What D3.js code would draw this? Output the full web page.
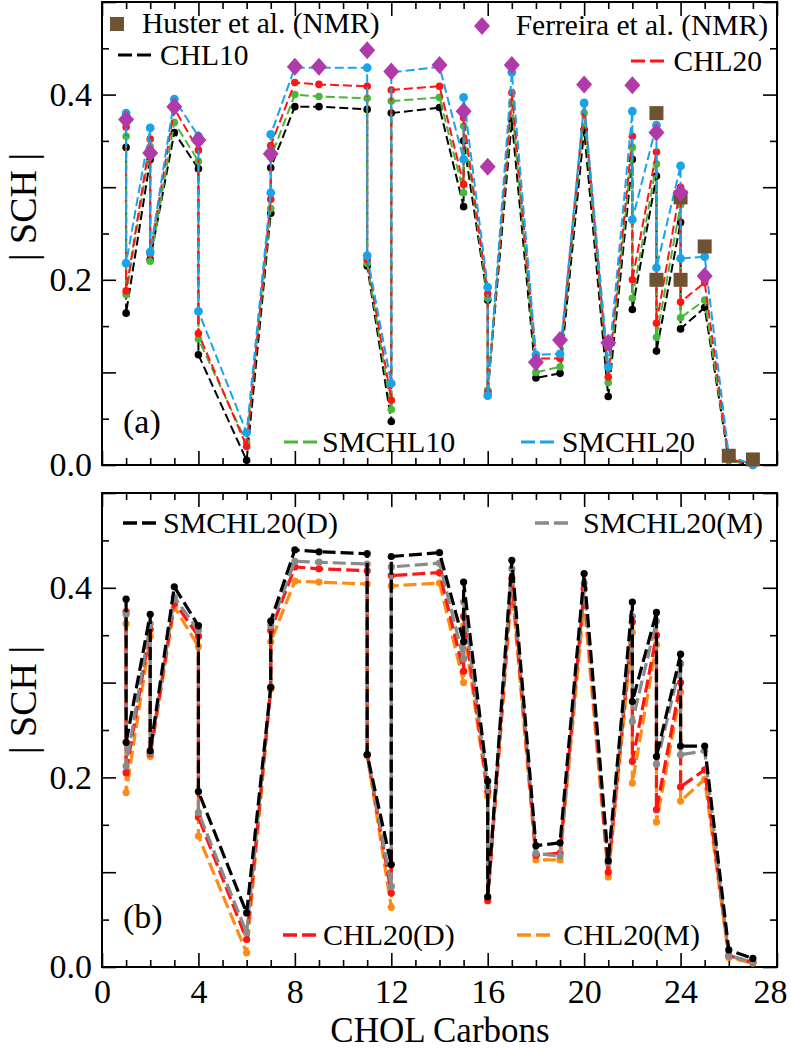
<!DOCTYPE html>
<html>
<head>
<meta charset="utf-8">
<script src="https://cdn.jsdelivr.net/npm/d3@7"></script>
<style>
  html, body { margin: 0; padding: 0; background: #fff; }
  svg { display: block; font-family: "Liberation Serif", "Times New Roman", serif; }
</style>
</head>
<body>
<svg id="chart" width="791" height="1050"></svg>
<script>
// ---- data ----
// carbon index of each simulated point (some carbons carry two H atoms → two values)
const carbons = [1,1,2,2,3,4,4,6,7,7,8,9,11,11,12,12,14,15,15,16,16,17,18,19,20,21,22,22,23,23,24,24,25,26,27];

// panel (a)
const chl10   = [0.343,0.164,0.330,0.222,0.359,0.320,0.119,0.005,0.272,0.321,0.387,0.387,0.384,0.215,0.047,0.380,0.386,0.279,0.350,0.178,0.080,0.372,0.094,0.099,0.362,0.074,0.330,0.168,0.312,0.123,0.262,0.147,0.170,0.005,0.000];
const chl20   = [0.365,0.188,0.352,0.228,0.385,0.340,0.142,0.020,0.287,0.345,0.413,0.411,0.409,0.222,0.070,0.405,0.409,0.303,0.375,0.185,0.078,0.402,0.115,0.115,0.390,0.095,0.355,0.200,0.338,0.153,0.300,0.176,0.197,0.007,0.000];
const smchl10 = [0.355,0.184,0.344,0.220,0.370,0.328,0.136,0.024,0.277,0.332,0.400,0.398,0.396,0.218,0.060,0.393,0.397,0.294,0.366,0.180,0.080,0.391,0.100,0.106,0.380,0.089,0.343,0.180,0.325,0.138,0.281,0.159,0.178,0.005,0.000];
const smchl20 = [0.380,0.218,0.364,0.230,0.395,0.355,0.166,0.035,0.294,0.357,0.429,0.429,0.429,0.226,0.088,0.424,0.430,0.330,0.397,0.192,0.075,0.424,0.119,0.120,0.391,0.106,0.382,0.265,0.367,0.213,0.323,0.223,0.225,0.010,0.000];

const husterC = [23,23,24,24,25,26,27];
const husterV = [0.380,0.200,0.289,0.200,0.236,0.010,0.006];
const ferreiraC = [1,2,3,4,7,8,9,11,12,14,15,16,17,18,19,20,21,22,23,24,25];
const ferreiraV = [0.373,0.337,0.387,0.351,0.336,0.430,0.430,0.448,0.425,0.432,0.382,0.322,0.432,0.111,0.135,0.411,0.132,0.410,0.359,0.294,0.204];

// panel (b)
const smchl20D = [0.388,0.237,0.372,0.228,0.401,0.360,0.185,0.057,0.295,0.365,0.440,0.438,0.436,0.224,0.108,0.433,0.437,0.343,0.406,0.196,0.074,0.429,0.128,0.131,0.415,0.112,0.385,0.280,0.374,0.222,0.330,0.233,0.233,0.018,0.009];
const smchl20M = [0.372,0.212,0.362,0.226,0.390,0.355,0.163,0.036,0.295,0.360,0.428,0.427,0.425,0.224,0.085,0.422,0.426,0.325,0.385,0.190,0.074,0.420,0.120,0.117,0.405,0.110,0.370,0.259,0.365,0.214,0.320,0.224,0.228,0.012,0.005];
const chl20D   = [0.375,0.205,0.356,0.225,0.385,0.349,0.158,0.029,0.295,0.355,0.422,0.420,0.418,0.224,0.078,0.413,0.416,0.312,0.370,0.185,0.070,0.410,0.118,0.120,0.399,0.100,0.364,0.217,0.350,0.166,0.300,0.190,0.208,0.012,0.005];
const chl20M   = [0.362,0.184,0.349,0.222,0.380,0.338,0.138,0.015,0.293,0.343,0.407,0.406,0.404,0.224,0.063,0.402,0.405,0.300,0.360,0.180,0.072,0.400,0.113,0.113,0.385,0.095,0.353,0.194,0.340,0.153,0.290,0.175,0.198,0.010,0.004];

const xTickLabels = ["0","4","8","12","16","20","24","28"];
const yTickLabels = ["0.0","0.2","0.4"];
const seriesNamesA = ["CHL10","CHL20","SMCHL10","SMCHL20"];
const seriesNamesB = ["SMCHL20(D)","SMCHL20(M)","CHL20(D)","CHL20(M)"];
const expNames = ["Huster et al. (NMR)","Ferreira et al. (NMR)"];
const panelTags = ["(a)","(b)"];
const xTitle = "CHOL Carbons";
const yTitle = "| SCH |";

// ---- drawing ----
const svg = d3.select("#chart");
const FONT = "Liberation Serif";
const x = d3.scaleLinear().domain([0, 28]).range([102, 777]);
const ya = d3.scaleLinear().domain([0, 0.5]).range([465, 2]);
const yb = d3.scaleLinear().domain([0, 0.5]).range([967, 493]);

const col = {
  black: "#000000", red: "#ff1515", green: "#48b83a", blue: "#1ba3ea",
  purple: "#b13aab", brown: "#6f5231", gray: "#8a8a8a", orange: "#ff8c12"
};

function frame(y, showXLabels) {
  const g = svg.append("g");
  const [y0, y1] = y.range();
  const minorX = d3.range(0, 29, 1).filter(v => v % 4 !== 0);
  const majorX = d3.range(0, 29, 4);
  const minorY = [0.05, 0.15, 0.25, 0.35, 0.45];
  const majorY = [0, 0.1, 0.2, 0.3, 0.4, 0.5];
  const styleAxis = s => s.call(a => a.select(".domain").remove())
                           .selectAll("line").attr("stroke", "#000").attr("stroke-width", 1.6);

  g.append("g").attr("transform", `translate(0,${y0})`)
    .call(d3.axisBottom(x).tickValues(minorX).tickSize(-7).tickFormat("")).call(styleAxis);
  g.append("g").attr("transform", `translate(0,${y1})`)
    .call(d3.axisTop(x).tickValues(minorX).tickSize(-7).tickFormat("")).call(styleAxis);
  g.append("g").attr("transform", `translate(0,${y1})`)
    .call(d3.axisTop(x).tickValues(majorX).tickSize(-14).tickFormat("")).call(styleAxis);
  const xb = g.append("g").attr("transform", `translate(0,${y0})`)
    .call(d3.axisBottom(x).tickValues(majorX).tickSize(-14).tickPadding(12)
      .tickFormat((d, i) => showXLabels ? xTickLabels[i] : ""));
  xb.call(styleAxis);
  xb.selectAll("text").attr("font-family", FONT).attr("font-size", 34).attr("fill", "#000")
    .attr("dx", d => d === 28 ? -7 : 0);

  g.append("g").attr("transform", `translate(${x.range()[1]},0)`)
    .call(d3.axisRight(y).tickValues(minorY).tickSize(-7).tickFormat("")).call(styleAxis);
  g.append("g").attr("transform", `translate(${x.range()[1]},0)`)
    .call(d3.axisRight(y).tickValues(majorY).tickSize(-14).tickFormat("")).call(styleAxis);
  g.append("g").attr("transform", `translate(${x.range()[0]},0)`)
    .call(d3.axisLeft(y).tickValues(minorY).tickSize(-7).tickFormat("")).call(styleAxis);
  const yl = g.append("g").attr("transform", `translate(${x.range()[0]},0)`)
    .call(d3.axisLeft(y).tickValues(majorY).tickSize(-14).tickPadding(10)
      .tickFormat(d => {
        const k = yTickLabels.indexOf(d.toFixed(1));
        return k >= 0 ? yTickLabels[k] : "";
      }));
  yl.call(styleAxis);
  yl.selectAll("text").attr("font-family", FONT).attr("font-size", 34).attr("fill", "#000");

  g.append("rect").attr("x", x.range()[0]).attr("y", y1)
    .attr("width", x.range()[1] - x.range()[0]).attr("height", y0 - y1)
    .attr("fill", "none").attr("stroke", "#000").attr("stroke-width", 2);
}

function series(y, vals, color, opts) {
  const g = svg.append("g");
  const line = d3.line().x((d, i) => x(carbons[i])).y(d => y(d));
  g.append("path").datum(vals).attr("d", line)
    .attr("fill", "none").attr("stroke", color)
    .attr("stroke-width", opts.sw).attr("stroke-dasharray", opts.dash);
  g.selectAll("circle").data(vals).join("circle")
    .attr("cx", (d, i) => x(carbons[i])).attr("cy", d => y(d))
    .attr("r", opts.r).attr("fill", color);
}

function legendLine(x1, yC, color, text, anchor, tx, sw, fs) {
  svg.append("line").attr("x1", x1).attr("x2", x1 + 34).attr("y1", yC).attr("y2", yC)
    .attr("stroke", color).attr("stroke-width", sw).attr("stroke-dasharray", "14,5");
  svg.append("text").attr("x", tx).attr("y", yC + 10).attr("text-anchor", anchor)
    .attr("font-family", FONT).attr("font-size", fs || 30).attr("fill", "#000").text(text);
}

// ---- panel (a) ----
frame(ya, false);
const optA = { sw: 2, dash: "9,4", r: 3.8 };
series(ya, chl10,   col.black, optA);
series(ya, smchl10, col.green, optA);
series(ya, chl20,   col.red,   optA);
series(ya, smchl20, col.blue,  { sw: 2, dash: "9,4", r: 4.4 });

svg.append("g").selectAll("rect").data(husterV).join("rect")
  .attr("x", (d, i) => x(husterC[i]) - 7).attr("y", d => ya(d) - 7)
  .attr("width", 14).attr("height", 14).attr("fill", col.brown);
const diamond = (cx, cy) => `M${cx},${cy - 9}L${cx + 8},${cy}L${cx},${cy + 9}L${cx - 8},${cy}Z`;
svg.append("g").selectAll("path").data(ferreiraV).join("path")
  .attr("d", (d, i) => diamond(x(ferreiraC[i]), ya(d))).attr("fill", col.purple);

// legends (a)
svg.append("rect").attr("x", 110).attr("y", 17).attr("width", 14).attr("height", 14).attr("fill", col.brown);
svg.append("text").attr("x", 142).attr("y", 33).attr("font-family", FONT).attr("font-size", 29.5).text(expNames[0]);
svg.append("path").attr("d", diamond(482, 26)).attr("fill", col.purple);
svg.append("text").attr("x", 768).attr("y", 35).attr("text-anchor", "end")
  .attr("font-family", FONT).attr("font-size", 29.5).text(expNames[1]);
legendLine(118, 55, col.black, seriesNamesA[0], "start", 160, 3, 29.5);
legendLine(631, 61, col.red, seriesNamesA[1], "end", 762, 3, 29.5);
legendLine(284, 442, col.green, seriesNamesA[2], "start", 322, 3);
legendLine(521, 442, col.blue, seriesNamesA[3], "end", 695, 3);
svg.append("text").attr("x", 123).attr("y", 433).attr("font-family", FONT)
  .attr("font-size", 34).text(panelTags[0]);

// ---- panel (b) ----
frame(yb, true);
const optB = { sw: 3.2, dash: "13,5", r: 3.6 };
series(yb, chl20M,   col.orange, optB);
series(yb, chl20D,   col.red,    optB);
series(yb, smchl20M, col.gray,   optB);
series(yb, smchl20D, col.black,  optB);

legendLine(123, 523, col.black, seriesNamesB[0], "start", 163, 3.5);
legendLine(535, 523, col.gray, seriesNamesB[1], "end", 763, 3.5);
legendLine(283, 935, col.red, seriesNamesB[2], "start", 323, 3.5);
legendLine(517, 935, col.orange, seriesNamesB[3], "end", 700, 3.5);
svg.append("text").attr("x", 123).attr("y", 928).attr("font-family", FONT)
  .attr("font-size", 34).text(panelTags[1]);

// ---- axis titles ----
svg.append("text").attr("x", 440).attr("y", 1042).attr("text-anchor", "middle")
  .attr("font-family", FONT).attr("font-size", 35).text(xTitle);
[207, 700].forEach(cy => {
  svg.append("text").attr("transform", `translate(36,${cy}) rotate(-90)`)
    .attr("text-anchor", "middle").attr("font-family", FONT).attr("font-size", 38).text(yTitle);
});
</script>
</body>
</html>
